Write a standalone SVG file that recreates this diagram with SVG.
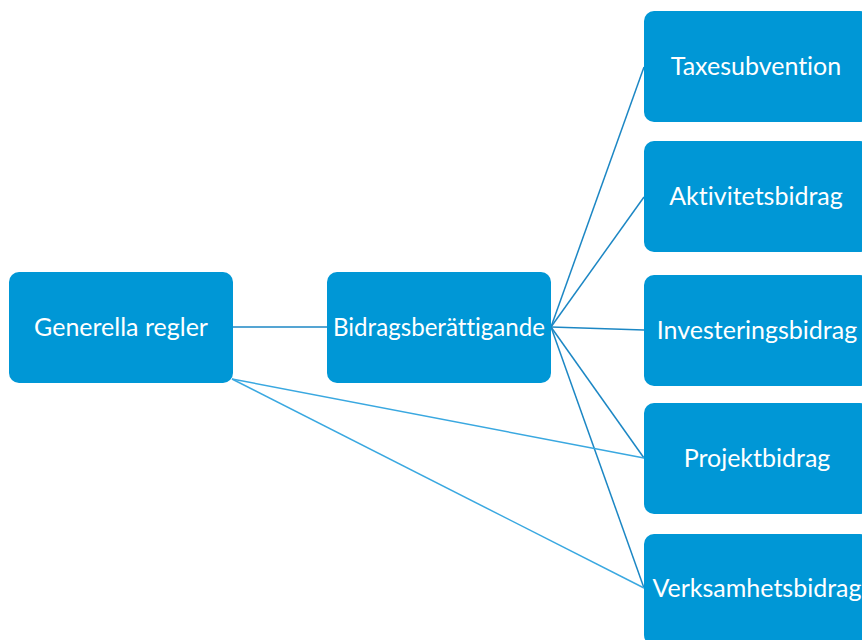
<svg xmlns="http://www.w3.org/2000/svg" width="862" height="640" viewBox="0 0 862 640">
<style>
.box{fill:#0097D6;}
.lbl{fill:#ffffff;font-family:Lato,"Open Sans",sans-serif;font-size:25px;text-anchor:middle;dominant-baseline:central;font-variant-ligatures:none;}
.c1{stroke:#1C87C4;stroke-width:1.5;fill:none;}
.c2{stroke:#3AA8E0;stroke-width:1.5;fill:none;}
</style>
<rect width="862" height="640" fill="#ffffff"/>
<g id="connectors">
<line class="c1" x1="233" y1="327" x2="327" y2="327"/>
<line class="c1" x1="551" y1="327" x2="644" y2="67"/>
<line class="c1" x1="551" y1="327" x2="644" y2="197"/>
<line class="c1" x1="551" y1="327" x2="644" y2="330"/>
<line class="c1" x1="551" y1="327" x2="644" y2="458"/>
<line class="c1" x1="551" y1="327" x2="644" y2="588"/>
<line class="c2" x1="232" y1="379" x2="644" y2="458"/>
<line class="c2" x1="232" y1="379" x2="644" y2="588"/>
</g>
<g id="generella"><rect class="box" x="9" y="272" width="224" height="111" rx="10"/><text class="lbl" x="121" y="326">Generella regler</text></g>
<g id="bidragsberattigande"><rect class="box" x="327" y="272" width="224" height="111" rx="10"/><text class="lbl" x="439" y="326" textLength="212" lengthAdjust="spacingAndGlyphs">Bidragsberättigande</text></g>
<g id="taxesubvention"><rect class="box" x="644" y="11" width="226" height="111" rx="10"/><text class="lbl" x="756" y="65">Taxesubvention</text></g>
<g id="aktivitetsbidrag"><rect class="box" x="644" y="141" width="226" height="111" rx="10"/><text class="lbl" x="756" y="195">Aktivitetsbidrag</text></g>
<g id="investeringsbidrag"><rect class="box" x="644" y="275" width="226" height="111" rx="10"/><text class="lbl" x="757" y="329">Investeringsbidrag</text></g>
<g id="projektbidrag"><rect class="box" x="644" y="403" width="226" height="111" rx="10"/><text class="lbl" x="757" y="457">Projektbidrag</text></g>
<g id="verksamhetsbidrag"><rect class="box" x="644" y="534" width="226" height="111" rx="10"/><text class="lbl" x="757" y="587">Verksamhetsbidrag</text></g>
</svg>
